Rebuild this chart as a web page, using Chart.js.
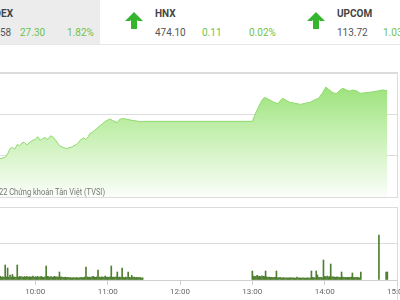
<!DOCTYPE html>
<html>
<head>
<meta charset="utf-8">
<script src="https://cdn.jsdelivr.net/npm/chart.js@4/dist/chart.umd.min.js"></script>
<style>
  body { margin: 0; width: 400px; height: 300px; overflow: hidden; background: #fff; font-family: Roboto, sans-serif; position: relative; }
  .abs { position: absolute; white-space: nowrap; }
  .hdr-box { left: 0; top: 0; width: 100px; height: 44px; background: #ececec; }
  .hdr-line { left: 0; top: 44px; width: 400px; height: 1px; background: #e6e6e6; }
  .lbl { font-size: 10px; font-weight: bold; color: #444; top: 8px; }
  .val { font-size: 10px; color: #555; top: 27px; }
  .chg { font-size: 10px; color: #6fc24c; top: 27px; }
  .panel { box-sizing: border-box; border: 1px solid #dcdcdc; background: #fff; }
  .copy { font-size: 8.5px; color: #777; top: 187px; left: -95px; width: 200px; text-align: right; transform: scaleX(0.88); transform-origin: right center; }
</style>
</head>
<body>
<div class="abs hdr-box"></div>
<div class="abs hdr-line"></div>
<div class="abs lbl" style="left:-50px;width:63px;text-align:right">VNINDEX</div>
<div class="abs val" style="left:0">58</div>
<div class="abs chg" style="left:20px">27.30</div>
<div class="abs chg" style="left:67px">1.82%</div>

<svg class="abs" style="left:125px;top:12px" width="18" height="17" viewBox="0 0 18 17"><polygon points="9,0 18,9 13,9 12,8 12,17 6,17 6,8 5,9 0,9" fill="#35b52e"/></svg>
<div class="abs lbl" style="left:155px">HNX</div>
<div class="abs val" style="left:155px">474.10</div>
<div class="abs chg" style="left:202px">0.11</div>
<div class="abs chg" style="left:249px">0.02%</div>

<svg class="abs" style="left:307px;top:12px" width="18" height="17" viewBox="0 0 18 17"><polygon points="9,0 18,9 13,9 12,8 12,17 6,17 6,8 5,9 0,9" fill="#35b52e"/></svg>
<div class="abs lbl" style="left:337px">UPCOM</div>
<div class="abs val" style="left:337px">113.72</div>
<div class="abs chg" style="left:383px">1.03</div>

<div class="abs panel" style="left:-10px;top:72px;width:408px;height:126px"></div>
<canvas id="priceChart" class="abs" style="left:-57px;top:73px" width="474" height="124"></canvas>
<div class="abs copy">© 2022 Chứng khoán Tân Việt (TVSI)</div>

<div class="abs panel" style="left:-10px;top:207px;width:408px;height:120px"></div>
<canvas id="volChart" class="abs" style="left:-57px;top:207px" width="474" height="93"></canvas>

<script>
// intraday index
const priceTimes = ['09:15','09:25','09:31','09:35','09:37','09:39','09:41','09:43','09:45','09:47','09:49','09:51','09:53','09:56','09:58',
  '10:00','10:02','10:04','10:06','10:08','10:10','10:11','10:13','10:15','10:17','10:20','10:23','10:26','10:31','10:35','10:37','10:40',
  '10:42','10:44','10:45','10:47','10:51','10:56','10:58','11:02','11:04','11:08','11:10','11:13','11:16','11:21','11:24','11:27','11:30',
  '13:00','13:02','13:05','13:08','13:10','13:13','13:15','13:18','13:21','13:23','13:25','13:28','13:31','13:35',
  '13:40','13:44','13:48','13:51','13:55','13:58','14:01','14:03','14:06','14:08','14:10','14:13','14:15','14:18',
  '14:21','14:23','14:27','14:29','14:30','14:39','14:45','14:48','14:52'];
const priceValues = [1507.5,1508.6,1509.3,1509.6,1510.4,1511.7,1512.0,1511.6,1512.7,1512.4,1513.1,1513.2,1512.6,1513.4,1513.7,
  1514.0,1514.6,1513.7,1514.1,1514.4,1513.9,1514.3,1514.8,1514.4,1513.7,1512.4,1512.0,1511.7,1512.2,1512.9,1513.7,1514.3,
  1513.9,1514.6,1515.3,1515.6,1516.6,1517.8,1518.3,1518.9,1518.5,1518.0,1518.8,1519.0,1518.8,1518.5,1518.4,1518.2,1518.3,
  1518.3,1519.8,1521.7,1523.4,1524.1,1523.7,1523.4,1522.9,1522.6,1523.2,1523.9,1523.4,1522.9,1522.7,
  1522.4,1522.7,1522.9,1523.4,1523.9,1525.1,1526.6,1526.1,1525.4,1525.1,1525.1,1525.9,1526.3,1525.9,
  1525.6,1525.9,1525.6,1525.2,1525.1,1525.4,1525.7,1525.9,1525.7];

// volume per minute (thousand shares)
const volAmStart = '09:30';
const volAm = [160,200,150,180,140,822,170,658,150,274,
  160,300,180,140,160,822,150,200,170,180,
  150,190,160,200,140,180,170,160,210,150,
  180,160,200,150,170,190,160,140,180,767,
  200,180,160,190,150,170,200,160,180,150,
  438,170,160,150,140,160,130,150,120,140,
  110,120,130,110,140,120,110,130,150,120,
  140,160,712,170,150,160,140,180,200,160,
  150,170,548,160,140,180,150,160,219,150,
  160,140,180,767,150,160,140,170,438,150,
  160,140,658,150,130,160,140,438,150,130,
  250,140,160,130,150,120,140,130,110,120];
const volPmStart = '13:00';
const volPm = [493,220,180,200,250,190,210,180,230,200,
  190,493,170,150,160,140,150,130,140,150,
  493,130,120,140,110,120,130,110,120,110,
  120,110,130,110,120,110,100,160,110,120,
  110,100,120,110,100,110,120,100,110,493,
  150,130,120,493,274,140,130,150,120,1096,
  200,180,220,160,190,877,170,180,160,150,
  170,160,150,140,438,160,150,140,130,150,
  140,150,160,384,140,130,150,140,130,120,
  438];
const atcTimes = ['14:45','14:51','14:52'];
const atcVol = [2466,438,438];

const hourTicks = ['9:00','10:00','11:00','12:00','13:00','14:00','15:00'];

function toMin(t) {
  const p = t.split(':');
  return (+p[0]) * 60 + (+p[1]) - 540;
}

Chart.defaults.font.family = 'Roboto';

const pricePts = priceTimes.map((t, i) => ({ x: toMin(t), y: priceValues[i] }));

new Chart(document.getElementById('priceChart').getContext('2d'), {
  type: 'line',
  data: {
    datasets: [{
      data: pricePts,
      borderColor: '#8fda6e',
      borderWidth: 1,
      pointRadius: 0,
      fill: 'start',
      backgroundColor: (c) => {
        const area = c.chart.chartArea;
        if (!area) return '#c8f0b5';
        const g = c.chart.ctx.createLinearGradient(0, area.top, 0, area.bottom);
        g.addColorStop(0, '#90df6c');
        g.addColorStop(0.45, '#c2efac');
        g.addColorStop(1, '#fbfefa');
        return g;
      },
    }],
  },
  options: {
    responsive: false,
    animation: false,
    layout: { padding: { left: 20, right: 20, top: 0, bottom: 0 } },
    plugins: { legend: { display: false }, tooltip: { enabled: false } },
    scales: {
      x: { type: 'linear', min: 0, max: 360, display: false },
      y: {
        min: 1500, max: 1530,
        ticks: { display: false, stepSize: 10 },
        border: { display: false },
        grid: { color: '#dcdcdc', drawTicks: false },
      },
    },
  },
});

const volPts = [];
volAm.forEach((v, i) => volPts.push({ x: toMin(volAmStart) + i, y: v }));
volPm.forEach((v, i) => volPts.push({ x: toMin(volPmStart) + i, y: v }));
atcTimes.forEach((t, i) => volPts.push({ x: toMin(t), y: atcVol[i] }));

new Chart(document.getElementById('volChart').getContext('2d'), {
  type: 'bar',
  data: {
    datasets: [{
      data: volPts,
      backgroundColor: '#4f7f30',
      barThickness: 1,
    }],
  },
  options: {
    responsive: false,
    animation: false,
    layout: { padding: { left: 20, right: 20, top: 0, bottom: 0 } },
    plugins: { legend: { display: false }, tooltip: { enabled: false } },
    scales: {
      x: {
        type: 'linear', min: 0, max: 360, offset: false,
        afterFit: (s) => { s.height = 20; },
        afterBuildTicks: (s) => { s.ticks = hourTicks.map(t => ({ value: toMin(t) })); },
        ticks: {
          autoSkip: false, maxRotation: 0, padding: 2,
          color: '#666', font: { size: 8 },
          callback: (v) => hourTicks.find(t => toMin(t) === v) || '',
        },
        border: { color: '#cfcfcf' },
        grid: { offset: false, drawOnChartArea: false, drawTicks: true, tickLength: 5, color: '#cfcfcf' },
      },
      y: {
        min: 0, max: 4000,
        ticks: { display: false, stepSize: 2000 },
        border: { display: false },
        grid: { color: '#dcdcdc', drawTicks: false },
      },
    },
  },
});
</script>
</body>
</html>
